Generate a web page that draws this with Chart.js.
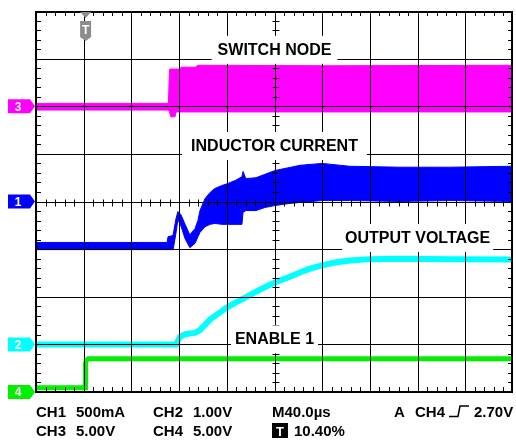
<!DOCTYPE html>
<html>
<head>
<meta charset="utf-8">
<title>Start-up waveforms</title>
<script src="https://cdn.jsdelivr.net/npm/chart.js@4.4.1/dist/chart.umd.min.js"></script>
<style>
    html, body { margin: 0; padding: 0; background: #fff; }
    canvas { display: block; }
</style>
</head>
<body>
<canvas id="scope" width="516" height="440"></canvas>
<script>
// Scope settings: 10 x 8 divisions, 40 us per division, trigger at 10.40 %
const timePerDiv = 40;
const triggerTime = 41.6;

// volts (or amps) per division and ground position in divisions
const ch1Scale = 0.5, ch1Ground = 0;
const ch2Scale = 1.0, ch2Ground = -3;
const ch3Scale = 5.0, ch3Ground = 2;
const ch4Scale = 5.0, ch4Ground = -4;

// CH3 switch node, envelope in V
const swTime = [0, 111, 112, 113, 116.6, 117.5, 120.8, 121.5, 134, 135.5, 250, 400];
const swHigh = [0.3, 0.3, 3.9, 3.9, 3.9, 3.9, 3.9, 4.1, 4.1, 4.3, 4.25, 4.3];
const swLow = [-0.4, -0.4, -0.6, -1.1, -1.1, -0.6, -0.6, -0.6, -0.6, -0.6, -0.6, -0.6];

// CH1 inductor current, envelope in A
const ilTime = [0, 110, 110.7, 114, 115, 117.4, 119, 121.6, 125, 129,
    133.3, 135.8, 137.5, 141.7, 146, 150, 156, 161, 167, 172.7,
    173.6, 176, 184.5, 192, 200.4, 213, 221.4, 240, 263, 305, 347, 400];
const ilHigh = [-0.43, -0.43, -0.37, -0.36, -0.35, -0.18, -0.105, -0.14, -0.24, -0.35,
    -0.285, -0.2, -0.095, 0.03, 0.095, 0.137, 0.168, 0.19, 0.22, 0.26,
    0.315, 0.24, 0.25, 0.285, 0.325, 0.358, 0.38, 0.4, 0.37, 0.36, 0.36, 0.37];
const ilLow = [-0.505, -0.505, -0.505, -0.505, -0.505, -0.33, -0.19, -0.26, -0.39, -0.485,
    -0.44, -0.37, -0.325, -0.265, -0.24, -0.23, -0.24, -0.24, -0.24, -0.24,
    -0.115, -0.095, -0.095, -0.063, -0.042, -0.02, -0.01, 0.01, 0.01, 0, 0.01, 0];

// CH2 output voltage in V
const voTime = [0, 117.4, 120.8, 125.8, 133.3, 137.5, 141.7, 145.9, 152.6, 158.5,
    166.9, 175.3, 186.2, 196.2, 204.6, 213, 221.4, 229.8, 238.1, 250.7,
    263.3, 280.1, 305.2, 347.2, 400];
const voVolt = [0, 0, 0.16, 0.22, 0.24, 0.3, 0.41, 0.52, 0.64, 0.75,
    0.87, 0.98, 1.13, 1.25, 1.34, 1.42, 1.51, 1.59, 1.65, 1.72,
    1.76, 1.79, 1.8, 1.79, 1.78];

// CH4 enable in V
const enTime = [0, 41.6, 41.6, 42.5, 44, 400];
const enVolt = [0.45, 0.45, 3.1, 3.35, 3.5, 3.5];

const MAGENTA = '#ff00ff';
const BLUE = '#0000ff';
const CYAN = '#00ffff';
const GREEN = '#00f000';

function toDivs(times, values, scale, ground) {
    return times.map((t, i) => ({ x: t, y: values[i] / scale + ground }));
}

const traceLabels = [
    { text: 'SWITCH NODE', x: 200, y: 3.08, pad: 6 },
    { text: 'INDUCTOR CURRENT', x: 200, y: 1.06, pad: 9 },
    { text: 'OUTPUT VOLTAGE', x: 320, y: -0.87, pad: 3 },
    { text: 'ENABLE 1', x: 200, y: -3.0, pad: 4 }
];

const channelMarks = [
    { name: '3', ground: ch3Ground, color: MAGENTA },
    { name: '1', ground: ch1Ground, color: BLUE },
    { name: '2', ground: ch2Ground, color: CYAN },
    { name: '4', ground: ch4Ground, color: GREEN }
];

const FONT = '"Liberation Sans", Arial, Helvetica, sans-serif';

const scopePlugin = {
    id: 'scopeGraticule',
    afterDatasetsDraw(chart) {
        const { ctx, chartArea: a, scales: { x, y } } = chart;
        ctx.save();

        // graticule lines drawn over the traces
        ctx.strokeStyle = '#000';
        ctx.lineWidth = 1;
        ctx.beginPath();
        for (let i = 1; i < 10; i++) {
            const px = Math.round(x.getPixelForValue(i * timePerDiv)) + 0.5;
            ctx.moveTo(px, a.top);
            ctx.lineTo(px, a.bottom);
        }
        for (let j = -3; j <= 3; j++) {
            const py = Math.round(y.getPixelForValue(j)) + 0.5;
            ctx.moveTo(a.left, py);
            ctx.lineTo(a.right, py);
        }
        ctx.stroke();

        // minor ticks, five per division
        const cx = Math.round(x.getPixelForValue(5 * timePerDiv)) + 0.5;
        const cy = Math.round(y.getPixelForValue(0)) + 0.5;
        ctx.beginPath();
        for (let k = 1; k < 50; k++) {
            const px = Math.round(x.getPixelForValue(k * timePerDiv / 5)) + 0.5;
            ctx.moveTo(px, a.top); ctx.lineTo(px, a.top + 5);
            ctx.moveTo(px, a.bottom); ctx.lineTo(px, a.bottom - 5);
            ctx.moveTo(px, cy - 3); ctx.lineTo(px, cy + 4);
        }
        for (let k = 1; k < 40; k++) {
            const py = Math.round(y.getPixelForValue(-4 + k * 0.2)) + 0.5;
            ctx.moveTo(a.left, py); ctx.lineTo(a.left + 5, py);
            ctx.moveTo(a.right, py); ctx.lineTo(a.right - 5, py);
            ctx.moveTo(cx - 3, py); ctx.lineTo(cx + 4, py);
        }
        ctx.stroke();

        // trace names on white boxes
        ctx.font = 'bold 16px ' + FONT;
        ctx.textAlign = 'center';
        ctx.textBaseline = 'alphabetic';
        traceLabels.forEach(lbl => {
            const px = x.getPixelForValue(lbl.x);
            const py = y.getPixelForValue(lbl.y);
            const w = ctx.measureText(lbl.text).width;
            ctx.fillStyle = '#fff';
            ctx.fillRect(px - w / 2 - lbl.pad, py - 19, w + lbl.pad * 2, 28);
            ctx.fillStyle = '#000';
            ctx.fillText(lbl.text, px, py);
        });

        // frame
        ctx.lineWidth = 2;
        ctx.strokeRect(a.left, a.top + 1, a.width - 1, a.height - 1);

        // trigger position marker
        const tx = x.getPixelForValue(triggerTime);
        ctx.fillStyle = '#8c8c8c';
        ctx.beginPath();
        ctx.moveTo(tx - 5.5, a.top + 1);
        ctx.lineTo(tx + 5.5, a.top + 1);
        ctx.lineTo(tx, a.top + 7);
        ctx.closePath();
        ctx.fill();
        ctx.beginPath();
        ctx.moveTo(tx - 5.5, a.top + 10);
        ctx.lineTo(tx + 5.5, a.top + 10);
        ctx.lineTo(tx + 5.5, a.top + 26);
        ctx.lineTo(tx, a.top + 30);
        ctx.lineTo(tx - 5.5, a.top + 26);
        ctx.closePath();
        ctx.fill();
        ctx.fillStyle = '#fff';
        ctx.font = 'bold 12px ' + FONT;
        ctx.fillText('T', tx, a.top + 23);

        ctx.restore();
    },
    afterDraw(chart) {
        const { ctx, scales: { y } } = chart;
        ctx.save();

        // channel ground markers
        ctx.font = 'bold 12px ' + FONT;
        ctx.textAlign = 'center';
        ctx.textBaseline = 'middle';
        channelMarks.forEach(m => {
            const py = y.getPixelForValue(m.ground);
            ctx.fillStyle = m.color;
            ctx.beginPath();
            ctx.moveTo(8, py - 7);
            ctx.lineTo(30, py - 7);
            ctx.lineTo(35, py);
            ctx.lineTo(30, py + 7);
            ctx.lineTo(8, py + 7);
            ctx.closePath();
            ctx.fill();
            ctx.fillStyle = '#fff';
            ctx.fillText(m.name, 18, py + 1);
        });

        // readouts below the screen
        ctx.fillStyle = '#000';
        ctx.textAlign = 'left';
        ctx.textBaseline = 'alphabetic';
        ctx.font = 'bold 15px ' + FONT;
        const row1 = 417, row2 = 436;
        ctx.fillText('CH1', 36, row1);
        ctx.fillText('500mA', 76, row1);
        ctx.fillText('CH2', 153, row1);
        ctx.fillText('1.00V', 193, row1);
        ctx.fillText('M40.0\u00b5s', 272, row1);
        ctx.fillText('A', 394, row1);
        ctx.fillText('CH4', 415, row1);
        ctx.fillText('2.70V', 474, row1);
        ctx.fillText('CH3', 36, row2);
        ctx.fillText('5.00V', 76, row2);
        ctx.fillText('CH4', 153, row2);
        ctx.fillText('5.00V', 193, row2);
        ctx.fillText('10.40%', 294, row2);

        // rising edge symbol
        ctx.strokeStyle = '#000';
        ctx.lineWidth = 1.5;
        ctx.beginPath();
        ctx.moveTo(449, row1 - 0.5);
        ctx.lineTo(458, row1 - 0.5);
        ctx.lineTo(460, row1 - 11);
        ctx.lineTo(469, row1 - 11);
        ctx.stroke();

        // trigger position badge
        ctx.fillRect(272, row2 - 13, 16, 15);
        ctx.fillStyle = '#fff';
        ctx.font = 'bold 13px ' + FONT;
        ctx.textAlign = 'center';
        ctx.fillText('T', 280, row2);

        ctx.restore();
    }
};

const bandStyle = (color, fill) => ({
    borderColor: color,
    backgroundColor: color,
    borderWidth: 1,
    pointRadius: 0,
    fill: fill,
    clip: 0
});

new Chart(document.getElementById('scope'), {
    type: 'line',
    data: {
        datasets: [
            Object.assign({ label: 'CH4 low', data: toDivs(enTime, enVolt, ch4Scale, ch4Ground) },
                bandStyle(GREEN, false), { borderWidth: 5 }),
            Object.assign({ label: 'CH2', data: toDivs(voTime, voVolt, ch2Scale, ch2Ground) },
                bandStyle(CYAN, false), { borderWidth: 6 }),
            Object.assign({ label: 'CH1 low', data: toDivs(ilTime, ilLow, ch1Scale, ch1Ground) },
                bandStyle(BLUE, false)),
            Object.assign({ label: 'CH1 high', data: toDivs(ilTime, ilHigh, ch1Scale, ch1Ground) },
                bandStyle(BLUE, '-1')),
            Object.assign({ label: 'CH3 low', data: toDivs(swTime, swLow, ch3Scale, ch3Ground) },
                bandStyle(MAGENTA, false)),
            Object.assign({ label: 'CH3 high', data: toDivs(swTime, swHigh, ch3Scale, ch3Ground) },
                bandStyle(MAGENTA, '-1'))
        ]
    },
    options: {
        responsive: false,
        animation: false,
        devicePixelRatio: 1,
        layout: { padding: { left: 36, top: 11, right: 3, bottom: 48 } },
        elements: { line: { tension: 0 } },
        scales: {
            x: { type: 'linear', min: 0, max: 10 * timePerDiv, display: false },
            y: { type: 'linear', min: -4, max: 4, display: false }
        },
        plugins: {
            legend: { display: false },
            tooltip: { enabled: false }
        }
    },
    plugins: [scopePlugin]
});
</script>
</body>
</html>
